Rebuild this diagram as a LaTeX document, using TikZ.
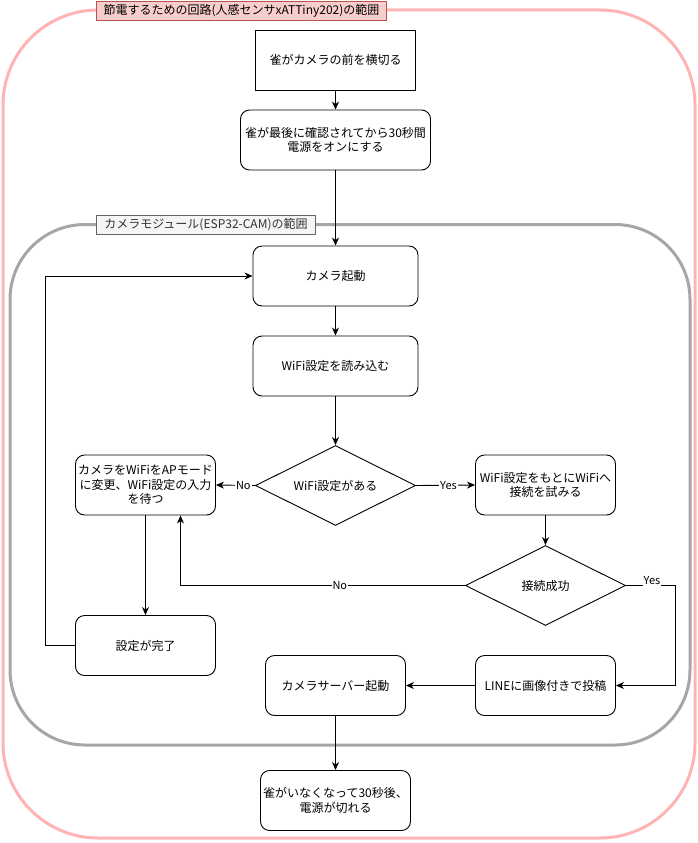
\documentclass[tikz,border=0pt]{standalone}
\usepackage{fontspec}
\setmainfont{Noto Sans CJK JP}
\usetikzlibrary{shapes.geometric,arrows.meta}
\definecolor{pinkline}{HTML}{FFB3B3}
\definecolor{grayline}{HTML}{A6A6A6}
\definecolor{pinkfill}{HTML}{F8CECC}
\definecolor{pinkbord}{HTML}{B85450}
\definecolor{grayfill}{HTML}{F5F5F5}
\definecolor{graybord}{HTML}{666666}
\definecolor{graytext}{HTML}{333333}
\tikzset{
  box/.style={draw=black, line width=0.9pt, minimum width=140pt, minimum height=60pt, inner sep=1pt, align=center, font=\fontsize{12}{14.5}\selectfont},
  rbox/.style={box, rounded corners=9pt},
  dia/.style={draw=black, line width=0.9pt, diamond, aspect=2, minimum width=160pt, minimum height=80pt, inner sep=0pt, align=center, font=\fontsize{12}{14.5}\selectfont},
  arr/.style={draw=black, line width=0.9pt, -{Stealth[length=8pt,width=7pt,inset=2.5pt]}},
  elab/.style={fill=white, inner sep=1pt, font=\fontsize{11}{13}\selectfont},
  grouplab/.style={line width=0.9pt, inner sep=2pt, anchor=west, minimum height=19pt, font=\fontsize{12}{14}\selectfont},
}
\begin{document}
\begin{tikzpicture}[x=1pt,y=-1pt]
\useasboundingbox (0,0) rectangle (697,843);
% containers
\draw[pinkline, line width=3pt, rounded corners=95pt] (3,10) rectangle (695,838);
\draw[grayline, line width=3pt, rounded corners=75pt] (10,224.5) rectangle (690,745);
\node[grouplab, draw=pinkbord, fill=pinkfill, text=black, minimum width=290pt] (glab1) at (96,10.5) {節電するための回路(人感センサxATTiny202)の範囲};
\node[grouplab, draw=graybord, fill=grayfill, text=graytext, minimum width=219pt] (glab2) at (96,225) {カメラモジュール(ESP32-CAM)の範囲};
% nodes
\node[box, minimum width=160pt] (n1) at (335.5,60) {雀がカメラの前を横切る};
\node[rbox, minimum width=190pt] (n2) at (335.5,140) {雀が最後に確認されてから30秒間\\電源をオンにする};
\node[rbox, minimum width=165pt] (cam) at (335.5,276) {カメラ起動};
\node[rbox, minimum width=165pt] (rd) at (335.5,366) {WiFi設定を読み込む};
\node[dia] (d1) at (335.5,485.5) {WiFi設定がある};
\node[rbox] (ap) at (145.5,485) {カメラをWiFiをAPモード\\に変更、WiFi設定の入力\\を待つ};
\node[rbox] (try) at (545.5,485) {WiFi設定をもとにWiFiへ\\接続を試みる};
\node[dia] (d2) at (545.5,585.5) {接続成功};
\node[rbox] (done) at (145.5,645.5) {設定が完了};
\node[rbox] (srv) at (335.5,685.5) {カメラサーバー起動};
\node[rbox] (post) at (545.5,685.5) {LINEに画像付きで投稿};
\node[rbox, minimum width=150pt] (off) at (335.5,800.5) {雀がいなくなって30秒後、\\電源が切れる};
% connectors
\draw[arr] (n1.south) -- (n2.north);
\draw[arr] (n2.south) -- (cam.north);
\draw[arr] (cam.south) -- (rd.north);
\draw[arr] (rd.south) -- (d1.north);
\draw[arr] (d1.west) -- node[elab, pos=0.3] {No} (ap.east);
\draw[arr] (d1.east) -- node[elab, pos=0.55] {Yes} (try.west);
\draw[arr] (try.south) -- (d2.north);
\draw[arr] (d2.west) -| node[elab, pos=0.22] {No} ([xshift=35pt]ap.south);
\coordinate (yc) at (675.5,585.5);
\draw[arr] (d2.east) -- (yc) |- (post.east);
\node[elab] (yeslab) at (652,581) {Yes};
\draw[arr] (post.west) -- (srv.east);
\draw[arr] (ap.south) -- (done.north);
\coordinate (lc) at (45,645.5);
\draw[arr] (done.west) -- (lc) |- (cam.west);
\draw[arr] (srv.south) -- (off.north);
\end{tikzpicture}
\end{document}
